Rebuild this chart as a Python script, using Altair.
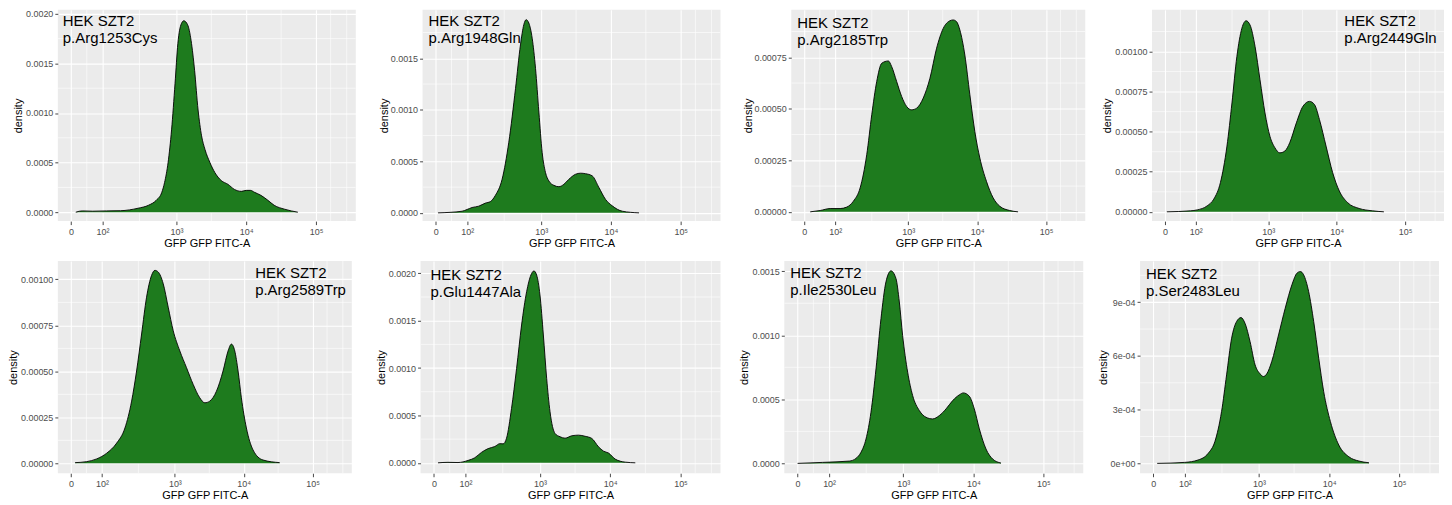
import altair as alt
import pandas as pd

GREEN = "#1E7B1E"

# x axis: position on the transformed (biexponential-like) fluorescence axis, in decades
X_DOMAIN = [1.30, 5.57]
TICK_POS = [1.49, 1.94, 3.0, 4.0, 5.0]
TICK_LABELS = ["0", "10²", "10³", "10⁴", "10⁵"]
MINOR_X = [1.715, 2.47, 3.5, 4.5, 5.21, 5.44]

LABELS = [
    "HEK SZT2\np.Arg1253Cys", "HEK SZT2\np.Arg1948Gln", "HEK SZT2\np.Arg2185Trp", "HEK SZT2\np.Arg2449Gln",
    "HEK SZT2\np.Arg2589Trp", "HEK SZT2\np.Glu1447Ala", "HEK SZT2\np.Ile2530Leu", "HEK SZT2\np.Ser2483Leu",
]

P1_U = [1.557, 1.65, 1.8, 2.0, 2.2, 2.45, 2.6, 2.71, 2.79, 2.83, 2.88, 2.93, 2.98, 3.02, 3.07, 3.105, 3.16, 3.21,
        3.26, 3.31, 3.36, 3.41, 3.48, 3.55, 3.64, 3.74, 3.83, 3.93, 4.0, 4.06, 4.12, 4.21, 4.31, 4.4, 4.55, 4.74]
P1_D = [0, 1.3e-5, 1.0e-5, 1.3e-5, 1.5e-5, 4e-5, 7e-5, 1.2e-4, 2.0e-4, 3.0e-4, 5.0e-4, 8.3e-4, 1.30e-3, 1.70e-3,
        1.90e-3, 1.93e-3, 1.89e-3, 1.73e-3, 1.43e-3, 1.03e-3, 7.7e-4, 6.3e-4, 5.0e-4, 4.0e-4, 3.2e-4, 2.8e-4,
        2.3e-4, 2.1e-4, 2.2e-4, 2.2e-4, 2.0e-4, 1.7e-4, 1.2e-4, 7e-5, 3e-5, 0]

P2_U = [1.522, 1.866, 1.938, 2.010, 2.105, 2.201, 2.273, 2.344, 2.44, 2.536, 2.632, 2.703, 2.751, 2.785, 2.823,
        2.871, 2.919, 2.967, 3.014, 3.062, 3.11, 3.182, 3.254, 3.325, 3.397, 3.493, 3.565, 3.636, 3.732, 3.828,
        3.923, 4.019, 4.163, 4.402]
P2_D = [0, 1.6e-5, 3.3e-5, 5.2e-5, 6.5e-5, 9.5e-5, 1.1e-4, 1.7e-4, 3.26e-4, 6.85e-4, 1.206e-3, 1.63e-3, 1.826e-3,
        1.875e-3, 1.842e-3, 1.695e-3, 1.402e-3, 9.78e-4, 5.87e-4, 3.91e-4, 3.1e-4, 2.67e-4, 2.54e-4, 2.77e-4,
        3.26e-4, 3.75e-4, 3.85e-4, 3.8e-4, 3.59e-4, 2.45e-4, 1.3e-4, 6.8e-5, 1.6e-5, 0]

P3_U = [1.575, 1.72, 1.865, 2.010, 2.106, 2.203, 2.30, 2.396, 2.469, 2.541, 2.614, 2.71, 2.758, 2.831, 2.903, 2.976,
        3.048, 3.121, 3.217, 3.314, 3.411, 3.507, 3.604, 3.652, 3.70, 3.749, 3.821, 3.894, 3.966, 4.039, 4.135,
        4.232, 4.329, 4.473, 4.594]
P3_D = [0, 6.5e-6, 1.6e-5, 1.6e-5, 2.3e-5, 5.2e-5, 1.16e-4, 2.77e-4, 4.71e-4, 6.32e-4, 7.21e-4, 7.32e-4, 7.05e-4,
        6.32e-4, 5.6e-4, 5.11e-4, 4.95e-4, 5.03e-4, 5.52e-4, 6.48e-4, 7.94e-4, 8.9e-4, 9.27e-4, 9.31e-4, 9.23e-4,
        8.82e-4, 7.61e-4, 5.68e-4, 3.9e-4, 2.61e-4, 1.48e-4, 6.8e-5, 2.7e-5, 6.5e-6, 0]

P4_U = [1.517, 1.865, 1.961, 2.106, 2.203, 2.30, 2.396, 2.469, 2.541, 2.614, 2.676, 2.734, 2.807, 2.879, 2.952,
        3.024, 3.097, 3.169, 3.242, 3.314, 3.411, 3.507, 3.604, 3.676, 3.749, 3.845, 3.942, 4.039, 4.159, 4.329,
        4.522, 4.691]
P4_D = [0, 6.2e-6, 1.2e-5, 3.7e-5, 7.9e-5, 1.82e-4, 4.1e-4, 6.79e-4, 9.69e-4, 1.145e-3, 1.192e-3, 1.165e-3,
        1.031e-3, 8.24e-4, 6.17e-4, 4.72e-4, 4.0e-4, 3.68e-4, 3.79e-4, 4.31e-4, 5.55e-4, 6.58e-4, 6.89e-4, 6.69e-4,
        5.75e-4, 4.1e-4, 2.44e-4, 1.3e-4, 5.8e-5, 2.1e-5, 6.2e-6, 0]

P5_U = [1.551, 1.72, 1.865, 2.010, 2.155, 2.275, 2.372, 2.444, 2.517, 2.589, 2.662, 2.71, 2.758, 2.831, 2.903,
        2.976, 3.072, 3.169, 3.266, 3.362, 3.435, 3.507, 3.604, 3.70, 3.773, 3.821, 3.87, 3.918, 3.966, 4.039,
        4.135, 4.28, 4.522]
P5_D = [3.7e-6, 9.1e-6, 2.4e-5, 5.5e-5, 1.1e-4, 1.92e-4, 3.38e-4, 5.02e-4, 7.03e-4, 9.03e-4, 1.022e-3, 1.049e-3,
        1.04e-3, 9.76e-4, 8.49e-4, 7.21e-4, 6.11e-4, 5.2e-4, 4.29e-4, 3.56e-4, 3.29e-4, 3.38e-4, 3.92e-4, 5.02e-4,
        6.11e-4, 6.48e-4, 6.11e-4, 5.02e-4, 3.56e-4, 1.92e-4, 7.3e-5, 1.8e-5, 3.7e-6]

P6_U = [1.548, 1.69, 1.833, 1.976, 2.071, 2.167, 2.262, 2.357, 2.429, 2.476, 2.524, 2.595, 2.667, 2.738, 2.81,
        2.871, 2.914, 2.952, 3.0, 3.048, 3.095, 3.143, 3.214, 3.286, 3.357, 3.452, 3.548, 3.643, 3.738, 3.833,
        3.905, 3.976, 4.071, 4.214, 4.357]
P6_D = [0, 5e-6, 3e-6, 2.5e-5, 5.3e-5, 1.1e-4, 1.5e-4, 1.72e-4, 2.02e-4, 2.0e-4, 2.6e-4, 5.74e-4, 9.96e-4,
        1.454e-3, 1.806e-3, 1.982e-3, 2.025e-3, 1.982e-3, 1.771e-3, 1.349e-3, 8.91e-4, 5.39e-4, 3.1e-4, 2.75e-4,
        2.6e-4, 2.85e-4, 2.92e-4, 2.8e-4, 2.57e-4, 1.69e-4, 1.23e-4, 1.03e-4, 3.9e-5, 7e-6, 0]

P7_U = [1.49, 1.848, 2.229, 2.324, 2.395, 2.467, 2.538, 2.61, 2.681, 2.752, 2.824, 2.895, 2.943, 2.99, 3.062, 3.133,
        3.229, 3.324, 3.419, 3.514, 3.61, 3.705, 3.8, 3.857, 3.943, 4.014, 4.086, 4.181, 4.276, 4.395]
P7_D = [0, 7.8e-6, 1.8e-5, 3.9e-5, 8.6e-5, 1.9e-4, 3.99e-4, 7.38e-4, 1.13e-3, 1.417e-3, 1.503e-3, 1.443e-3,
        1.26e-3, 9.99e-4, 7.12e-4, 5.3e-4, 4.12e-4, 3.6e-4, 3.47e-4, 3.73e-4, 4.25e-4, 4.9e-4, 5.35e-4, 5.5e-4,
        5.24e-4, 4.25e-4, 2.69e-4, 1.12e-4, 3.4e-5, 2.6e-6]

P8_U = [1.545, 1.938, 2.129, 2.273, 2.368, 2.464, 2.536, 2.608, 2.679, 2.742, 2.799, 2.871, 2.943, 3.014, 3.062,
        3.11, 3.182, 3.278, 3.373, 3.469, 3.541, 3.589, 3.636, 3.708, 3.78, 3.852, 3.923, 4.019, 4.139, 4.282,
        4.426, 4.569]
P8_D = [0, 5.6e-6, 1.9e-5, 5.6e-5, 1.21e-4, 2.89e-4, 4.94e-4, 6.99e-4, 7.92e-4, 8.14e-4, 7.82e-4, 6.8e-4, 5.5e-4,
        5.0e-4, 4.85e-4, 5.0e-4, 5.7e-4, 7.17e-4, 8.66e-4, 9.97e-4, 1.062e-3, 1.071e-3, 1.053e-3, 9.59e-4,
        7.92e-4, 5.87e-4, 4.0e-4, 2.33e-4, 1.02e-4, 3.7e-5, 1.3e-5, 3.7e-6]

Y_DOMAINS = [
    [-0.00009, 0.00204], [-0.00008, 0.00197], [-0.000045, 0.00098], [-0.000058, 0.00126],
    [-0.000054, 0.0011], [-0.00011, 0.00213], [-0.000077, 0.00158], [-0.000055, 0.00113],
]
Y_TICKS = [
    [0, 0.0005, 0.001, 0.0015, 0.002], [0, 0.0005, 0.001, 0.0015], [0, 0.00025, 0.0005, 0.00075],
    [0, 0.00025, 0.0005, 0.00075, 0.001], [0, 0.00025, 0.0005, 0.00075, 0.001],
    [0, 0.0005, 0.001, 0.0015, 0.002], [0, 0.0005, 0.001, 0.0015], [0, 0.0003, 0.0006, 0.0009],
]
Y_FORMATS = [".4f", ".4f", ".5f", ".5f", ".5f", ".4f", ".4f", "sci"]


def x_label_expr():
    expr = "'" + TICK_LABELS[-1] + "'"
    for i in range(len(TICK_POS) - 2, -1, -1):
        mid = (TICK_POS[i] + TICK_POS[i + 1]) / 2
        expr = f"datum.value < {mid} ? '{TICK_LABELS[i]}' : ({expr})"
    return expr


def make_panel(idx, us, ds, width, height, ext, tpad, tx, ty):
    ydom = Y_DOMAINS[idx]
    yticks = Y_TICKS[idx]
    fmt = Y_FORMATS[idx]
    step = yticks[1] - yticks[0]
    minor_y = [(a + b) / 2 for a, b in zip(yticks, yticks[1:])] + [yticks[-1] + step / 2]
    minor_y = [v for v in minor_y if ydom[0] < v < ydom[1]]

    xaxis = alt.Axis(values=TICK_POS, labelExpr=x_label_expr(), title="GFP GFP FITC-A")
    xenc = alt.X("u:Q", scale=alt.Scale(domain=X_DOMAIN, nice=False, zero=False), axis=xaxis)
    ykw = dict(values=yticks, title="density", minExtent=ext, maxExtent=ext, titlePadding=tpad)
    if fmt == "sci":
        ykw["labelExpr"] = "datum.value < 1e-6 ? '0e+00' : format(datum.value * 1e4, '.0f') + 'e-04'"
    else:
        ykw["format"] = fmt
    yenc = alt.Y("d:Q", scale=alt.Scale(domain=ydom, nice=False, zero=False), axis=alt.Axis(**ykw))

    vgrid = alt.Chart(pd.DataFrame({"u": MINOR_X})).mark_rule(
        color="white", strokeWidth=0.6, clip=True).encode(x=xenc)
    hgrid = alt.Chart(pd.DataFrame({"d": minor_y})).mark_rule(
        color="white", strokeWidth=0.6, clip=True).encode(y=yenc)
    area = alt.Chart(pd.DataFrame({"u": us, "d": ds})).mark_area(
        color=GREEN, opacity=1, interpolate="monotone",
        line={"color": "black", "strokeWidth": 0.9},
    ).encode(x=xenc, y=yenc, y2=alt.datum(0))
    txt = alt.Chart(pd.DataFrame({"t": [LABELS[idx]]})).mark_text(
        align="left", baseline="top", fontSize=15, lineHeight=17, lineBreak="\n",
        font="Liberation Sans", color="black",
    ).encode(x=alt.value(tx), y=alt.value(ty), text="t:N")
    return alt.layer(vgrid, hgrid, area, txt).properties(width=width, height=height)


H1, H2 = 212, 213
p1 = make_panel(0, P1_U, P1_D, 299, H1, 33, 1, 5, 4)
p2 = make_panel(1, P2_U, P2_D, 299, H1, 33, 0, 6, 4)
p3 = make_panel(2, P3_U, P3_D, 295, H1, 38, 0, 6, 6)
p4 = make_panel(3, P4_U, P4_D, 293, H1, 38, 2, 193, 4)
p5 = make_panel(4, P5_U, P5_D, 295, H2, 38, 1, 198, 5)
p6 = make_panel(5, P6_U, P6_D, 301, H2, 33, 1, 10, 7)
p7 = make_panel(6, P7_U, P7_D, 300, H2, 33, 2, 6, 5)
p8 = make_panel(7, P8_U, P8_D, 300, H2, 28, 4, 6, 6)

row1 = alt.hconcat(alt.hconcat(alt.hconcat(p1, p2, spacing=23), p3, spacing=22), p4, spacing=16)
row2 = alt.hconcat(alt.hconcat(alt.hconcat(p5, p6, spacing=24), p7, spacing=18), p8, spacing=14)

chart = (
    alt.vconcat(row1, row2, spacing=12)
    .properties(padding=0, background="white")
    .configure_view(fill="#EBEBEB", stroke=None)
    .configure_axis(
        domain=False, labelColor="#4D4D4D", labelFont="Liberation Sans", titleFont="Liberation Sans",
        titleColor="black", titleFontWeight="normal", tickColor="#333333", tickWidth=0.9,
        gridColor="white", gridWidth=1.1, labelFontSize=9, titleFontSize=11,
        labelFlush=False, labelOverlap=False,
    )
    .configure_axisX(tickSize=3.5, labelPadding=3, titlePadding=1)
    .configure_axisY(tickSize=3, labelPadding=2)
)

chart.save("out.html", embed_options={"renderer": "svg", "actions": False})
